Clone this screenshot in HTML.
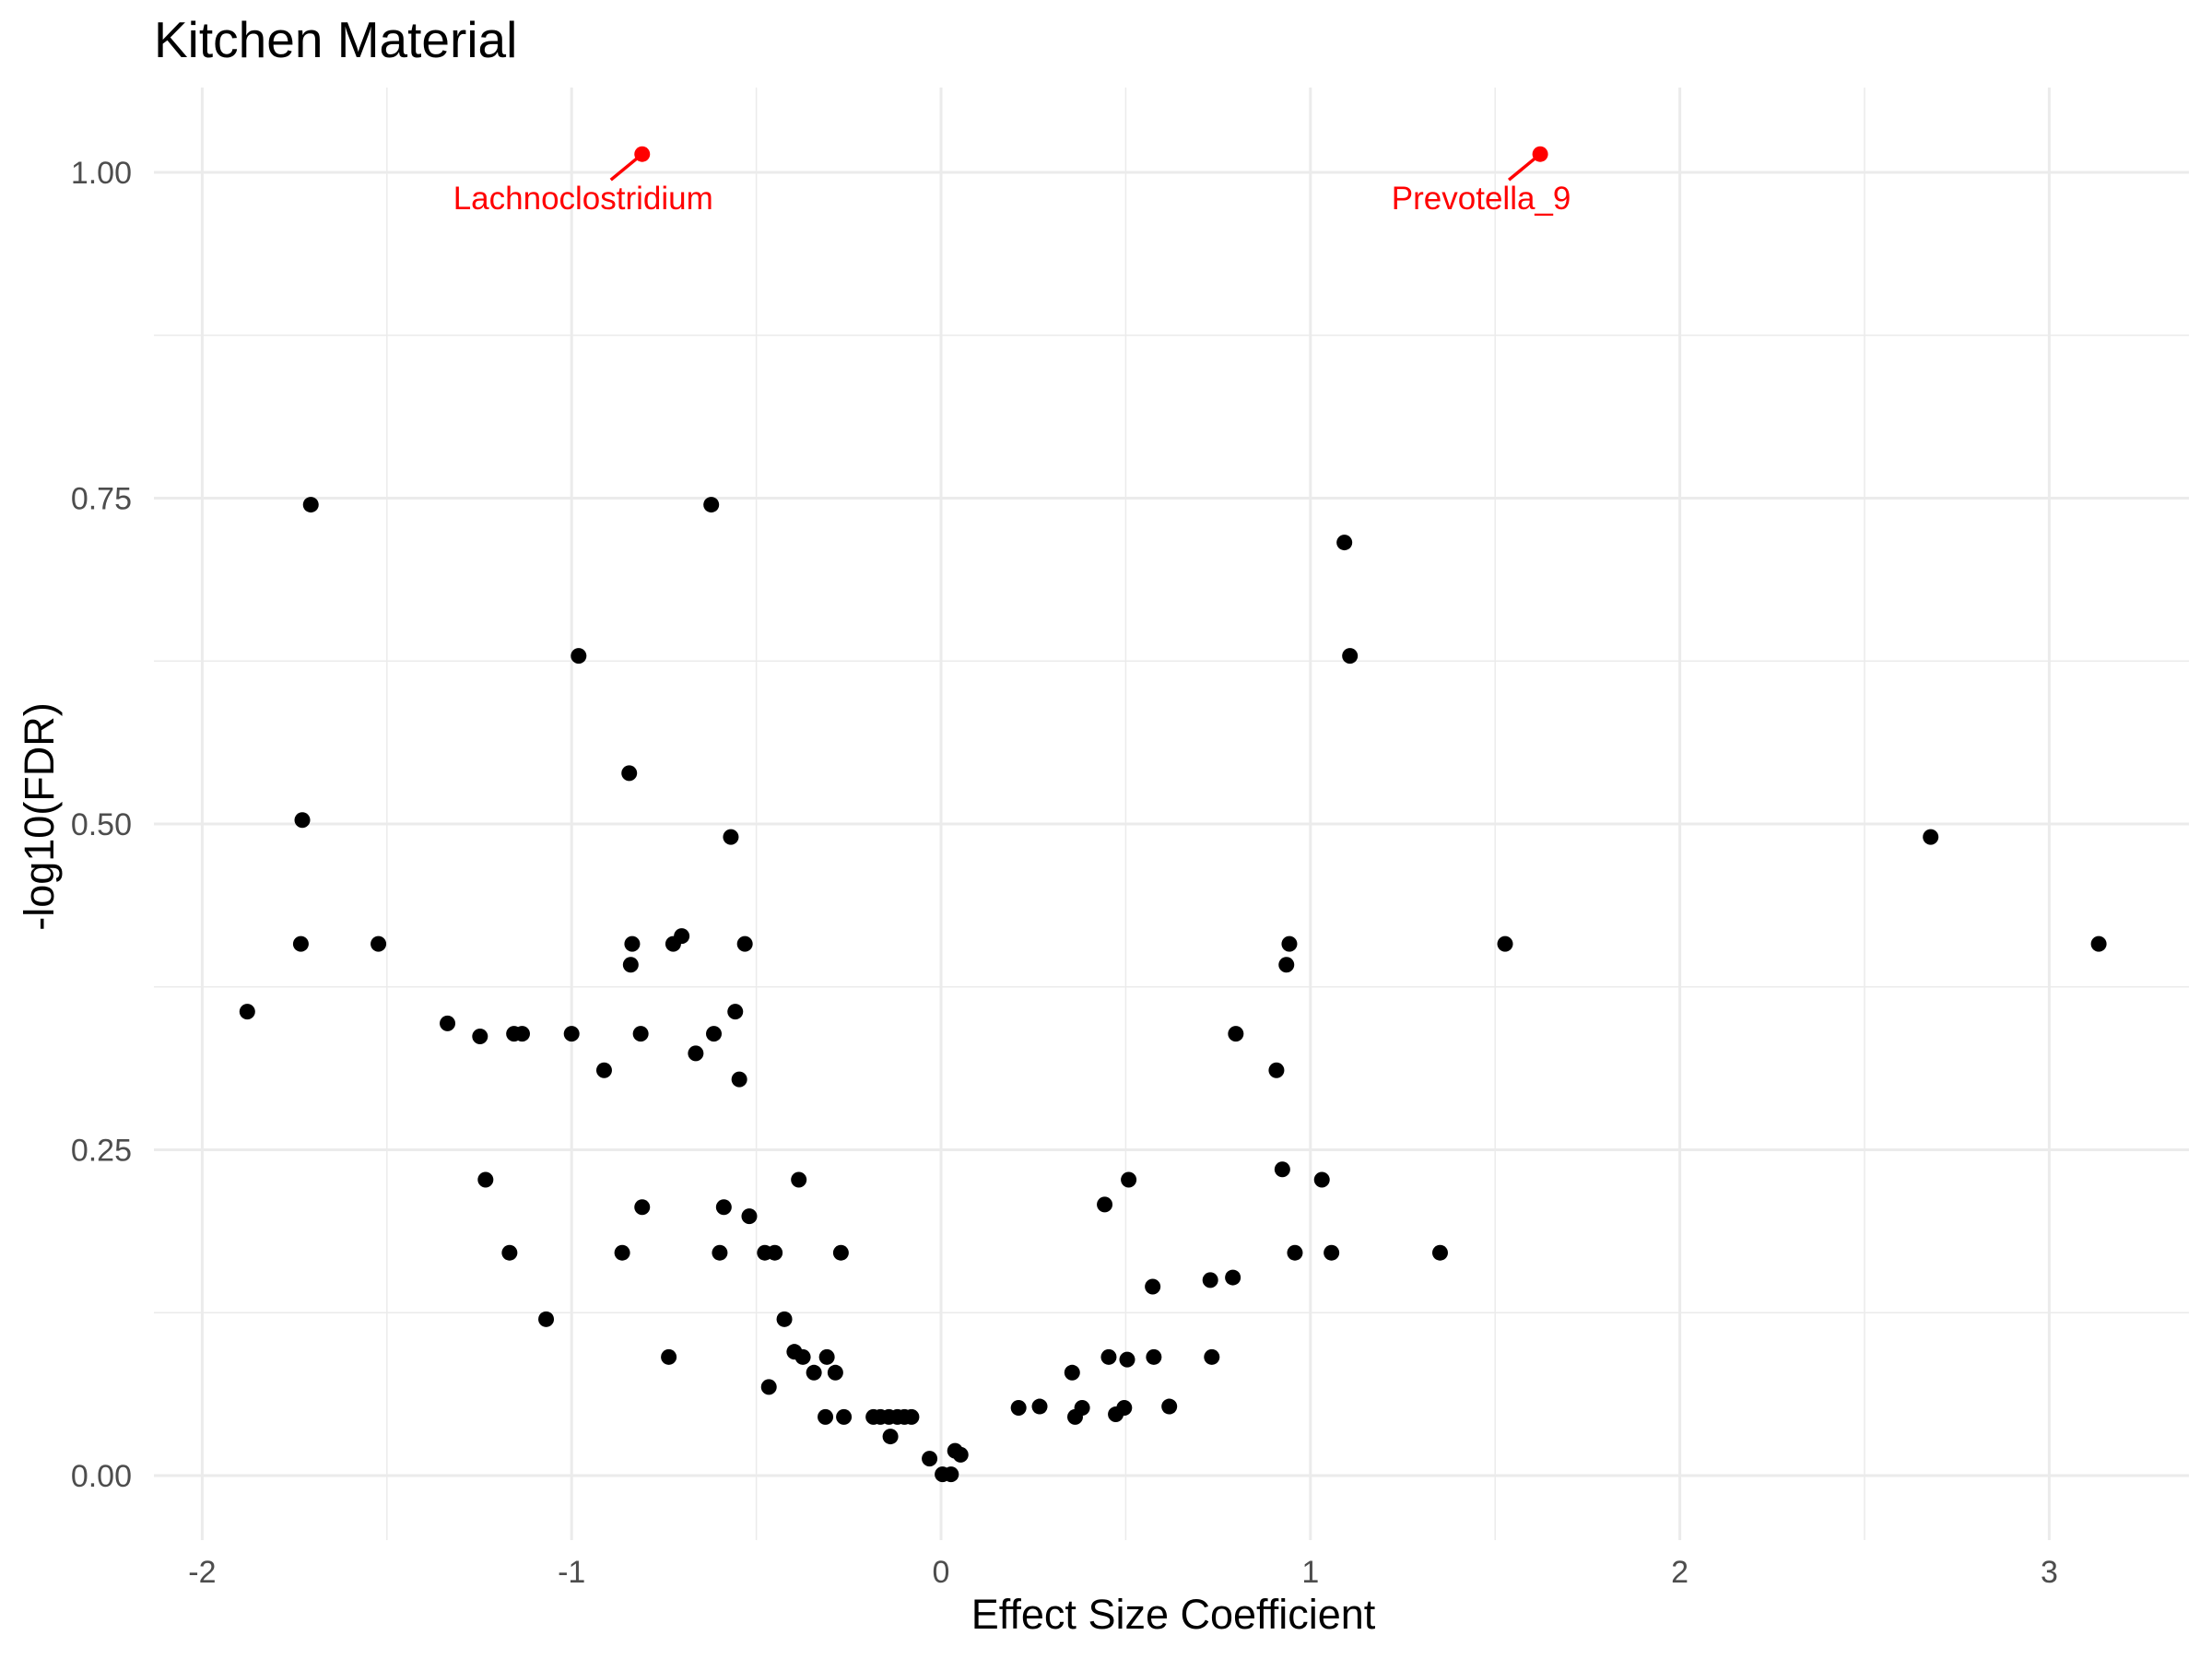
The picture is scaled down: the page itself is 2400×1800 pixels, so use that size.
<!DOCTYPE html>
<html><head><meta charset="utf-8"><style>
html,body{margin:0;padding:0;background:#fff;}
svg{display:block;font-family:"Liberation Sans",Arial,sans-serif;}
</style></head><body>
<svg id="chart" width="2400" height="1800" viewBox="0 0 2400 1800" xmlns="http://www.w3.org/2000/svg">
<rect width="2400" height="1800" fill="#fff"/>
<g id="grid"></g>
<g id="points"></g>
<g id="labels"></g>
<g id="axes"></g>
<text x="167" y="62" font-size="55" fill="#000">Kitchen Material</text>
<text x="1273" y="1767" font-size="45" fill="#000" text-anchor="middle">Effect Size Coefficient</text>
<text transform="translate(58,886) rotate(-90)" font-size="45" fill="#000" text-anchor="middle">-log10(FDR)</text>
</svg>
<script>
const xVals = [-1.878,-1.706,-1.729,-1.733,-1.523,-1.336,-1.248,-1.233,-1.168,-1.156,-1.134,-1.069,-1.0,-0.981,-0.912,-0.863,-0.844,-0.840,-0.836,-0.813,-0.809,-0.737,-0.725,-0.702,-0.664,-0.622,-0.615,-0.599,-0.588,-0.569,-0.557,-0.546,-0.531,-0.519,-0.477,-0.466,-0.450,-0.424,-0.397,-0.385,-0.374,-0.344,-0.313,-0.309,-0.286,-0.271,-0.263,-0.183,-0.164,-0.141,-0.137,-0.118,-0.099,-0.080,-0.031,0.004,0.027,0.038,0.053,0.210,0.267,0.355,0.363,0.382,0.443,0.454,0.473,0.496,0.504,0.508,0.573,0.576,0.618,0.729,0.733,0.790,0.798,0.908,0.924,0.935,0.943,0.958,1.031,1.057,1.092,1.107,1.351,1.527,2.679,3.134];
const yVals = [0.356,0.745,0.503,0.408,0.408,0.347,0.337,0.227,0.171,0.339,0.339,0.120,0.339,0.629,0.311,0.171,0.539,0.392,0.408,0.339,0.206,0.091,0.408,0.414,0.324,0.745,0.339,0.171,0.206,0.490,0.356,0.304,0.408,0.199,0.171,0.068,0.171,0.120,0.095,0.227,0.091,0.079,0.045,0.091,0.079,0.171,0.045,0.045,0.045,0.045,0.030,0.045,0.045,0.045,0.013,0.001,0.001,0.019,0.016,0.052,0.053,0.079,0.045,0.052,0.208,0.091,0.047,0.052,0.089,0.227,0.145,0.091,0.053,0.150,0.091,0.152,0.339,0.311,0.235,0.392,0.408,0.171,0.227,0.171,0.716,0.629,0.171,0.408,0.490,0.408];
const hlNames = ["Lachnoclostridium","Prevotella_9"];
const hlX = [-0.809,1.622];
const hlY = [1.014,1.014];
const xTicks = [-2,-1,0,1,2,3];
const xTickLabels = ["-2","-1","0","1","2","3"];
const yTicks = [0,0.25,0.5,0.75,1];
const yTickLabels = ["0.00","0.25","0.50","0.75","1.00"];

const PL=167, PR=2375, PT=95, PB=1671;
const X = v => 1021 + v*400.8;
const Y = v => 1601 - v*1414;
const NS="http://www.w3.org/2000/svg";
function mk(tag, attrs, parent){const e=document.createElementNS(NS,tag);for(const k in attrs)e.setAttribute(k,attrs[k]);parent.appendChild(e);return e;}
const grid=document.getElementById('grid'), pts=document.getElementById('points'), labs=document.getElementById('labels'), axes=document.getElementById('axes');
for(let i=0;i<xTicks.length-1;i++){const v=(xTicks[i]+xTicks[i+1])/2;
 const l=mk('line',{x1:X(v),x2:X(v),y1:PT,y2:PB,stroke:'#ebebeb','stroke-width':1.5},grid);
 
 }
for(let i=0;i<yTicks.length-1;i++){const v=(yTicks[i]+yTicks[i+1])/2;
 const l=mk('line',{x1:PL,x2:PR,y1:Y(v),y2:Y(v),stroke:'#ebebeb','stroke-width':1.5},grid);
 
 }
xTicks.forEach((v,i)=>{
 const l=mk('line',{x1:X(v),x2:X(v),y1:PT,y2:PB,stroke:'#ebebeb','stroke-width':3},grid);
 
 
 const t=mk('text',{x:X(v),y:1717,'font-size':34,fill:'#4d4d4d','text-anchor':'middle'},axes);
 t.textContent=xTickLabels[i];
 
 
});
yTicks.forEach((v,i)=>{
 const l=mk('line',{x1:PL,x2:PR,y1:Y(v),y2:Y(v),stroke:'#ebebeb','stroke-width':3},grid);
 
 
 const t=mk('text',{x:143,y:Y(v)+12,'font-size':34,fill:'#4d4d4d','text-anchor':'end'},axes);
 t.textContent=yTickLabels[i];
 
 
});
xVals.forEach((v,i)=>{
 const c=mk('circle',{cx:X(v),cy:Y(yVals[i]),r:8.5,fill:'#000'},pts);
 
 
});
hlX.forEach((v,i)=>{
 const cx=X(v), cy=Y(hlY[i]);
 const s=mk('line',{x1:cx,y1:cy,x2:cx-34,y2:cy+28,stroke:'#ff0000','stroke-width':3.5},labs);
 
 
 const c=mk('circle',{cx:cx,cy:cy,r:8.5,fill:'#ff0000'},labs);
 
 
 const t=mk('text',{x:cx-64,y:cy+60,'font-size':35,fill:'#ff0000','text-anchor':'middle'},labs);
 t.textContent=hlNames[i];
 
 
});
</script>
</body></html>
